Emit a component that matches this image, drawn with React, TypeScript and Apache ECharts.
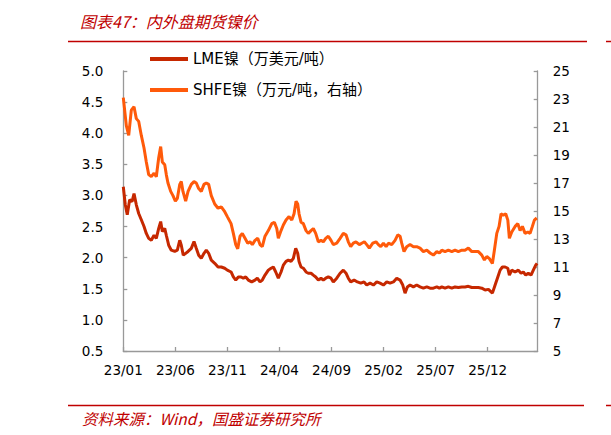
import React, { useEffect, useRef } from "react";
import * as echarts from "echarts";

const titleText = "图表47：内外盘期货镍价";
const sourceText = "资料来源：Wind，国盛证券研究所";
const seriesNames = ["LME镍（万美元/吨）", "SHFE镍（万元/吨，右轴）"];

// x = months since 2023-01
const lmeMonths = [0, 0.19, 0.38, 0.61, 0.84, 1.03, 1.25, 1.48, 1.73, 1.99, 2.21, 2.44, 2.69, 2.95, 3.17, 3.4, 3.59, 3.75, 3.98, 4.13, 4.36, 4.61, 4.94, 5.19, 5.42, 5.57, 5.76, 5.99, 6.22, 6.53, 6.79, 7.01, 7.24, 7.49, 7.75, 7.97, 8.2, 8.45, 8.78, 9.1, 9.41, 9.74, 9.99, 10.35, 10.57, 10.8, 11.05, 11.31, 11.53, 11.76, 12.01, 12.33, 12.65, 12.87, 13.13, 13.35, 13.61, 13.93, 14.19, 14.41, 14.64, 14.89, 15.15, 15.37, 15.63, 15.85, 16.11, 16.33, 16.56, 16.75, 16.88, 17.07, 17.29, 17.55, 17.77, 18.03, 18.25, 18.48, 18.73, 18.99, 19.21, 19.44, 19.69, 19.95, 20.17, 20.5, 20.82, 21.13, 21.39, 21.61, 21.84, 22.17, 22.48, 22.81, 23.12, 23.38, 23.7, 24.02, 24.34, 24.66, 24.98, 25.3, 25.62, 25.94, 26.26, 26.58, 26.84, 27.06, 27.28, 27.54, 27.86, 28.18, 28.5, 28.82, 29.15, 29.46, 29.78, 30.11, 30.36, 30.59, 30.9, 31.22, 31.55, 31.86, 32.18, 32.51, 32.82, 33.14, 33.47, 33.78, 34.1, 34.43, 34.75, 35.07, 35.45, 35.71, 35.97, 36.19, 36.41, 36.67, 36.93, 37.08, 37.31, 37.63, 37.94, 38.2, 38.42, 38.65, 38.9, 39.16, 39.38, 39.61, 39.74];
const lmeValues = [3.14, 2.85, 2.69, 2.93, 2.9, 3.03, 2.85, 2.71, 2.61, 2.5, 2.39, 2.31, 2.28, 2.36, 2.31, 2.47, 2.58, 2.42, 2.47, 2.36, 2.2, 2.12, 2.1, 2.12, 2.28, 2.2, 2.04, 2.07, 2.1, 2.15, 2.26, 2.15, 2.04, 1.99, 2.07, 2.12, 2.07, 1.96, 1.91, 1.85, 1.85, 1.83, 1.8, 1.77, 1.69, 1.64, 1.69, 1.69, 1.67, 1.69, 1.64, 1.61, 1.64, 1.67, 1.61, 1.64, 1.72, 1.8, 1.83, 1.85, 1.77, 1.67, 1.77, 1.88, 1.94, 1.96, 1.94, 1.99, 2.15, 2.07, 1.94, 1.85, 1.83, 1.77, 1.75, 1.75, 1.72, 1.69, 1.64, 1.67, 1.64, 1.67, 1.69, 1.67, 1.61, 1.67, 1.75, 1.8, 1.75, 1.67, 1.61, 1.64, 1.61, 1.59, 1.61, 1.56, 1.59, 1.56, 1.61, 1.59, 1.56, 1.61, 1.59, 1.61, 1.67, 1.64, 1.56, 1.43, 1.53, 1.56, 1.53, 1.56, 1.53, 1.51, 1.53, 1.51, 1.51, 1.53, 1.51, 1.53, 1.51, 1.53, 1.51, 1.53, 1.52, 1.53, 1.53, 1.54, 1.52, 1.52, 1.52, 1.51, 1.48, 1.49, 1.43, 1.56, 1.69, 1.8, 1.85, 1.85, 1.83, 1.72, 1.8, 1.77, 1.8, 1.75, 1.77, 1.72, 1.75, 1.72, 1.8, 1.88, 1.91];

const shfeMonths = [0, 0.29, 0.52, 0.77, 1.03, 1.25, 1.48, 1.73, 1.99, 2.21, 2.44, 2.69, 2.95, 3.17, 3.4, 3.59, 3.75, 3.98, 4.13, 4.29, 4.55, 4.77, 5.0, 5.19, 5.42, 5.57, 5.73, 5.99, 6.22, 6.53, 6.79, 7.01, 7.24, 7.49, 7.75, 7.97, 8.2, 8.45, 8.78, 9.1, 9.41, 9.74, 9.99, 10.35, 10.57, 10.8, 10.99, 11.21, 11.43, 11.69, 11.95, 12.17, 12.39, 12.65, 12.91, 13.13, 13.35, 13.61, 13.93, 14.26, 14.51, 14.74, 14.89, 15.15, 15.37, 15.63, 15.92, 16.18, 16.4, 16.59, 16.75, 16.88, 17.07, 17.29, 17.55, 17.77, 18.03, 18.25, 18.48, 18.73, 18.99, 19.21, 19.44, 19.69, 19.95, 20.17, 20.5, 20.82, 21.13, 21.39, 21.61, 21.84, 22.09, 22.35, 22.67, 22.9, 23.15, 23.38, 23.63, 23.96, 24.27, 24.5, 24.73, 24.98, 25.24, 25.46, 25.78, 26.1, 26.36, 26.58, 26.74, 26.96, 27.22, 27.54, 27.86, 28.18, 28.5, 28.82, 29.15, 29.46, 29.78, 30.11, 30.36, 30.59, 30.9, 31.22, 31.55, 31.86, 32.18, 32.51, 32.82, 33.14, 33.47, 33.78, 34.1, 34.43, 34.68, 34.91, 35.16, 35.45, 35.64, 35.87, 36.09, 36.28, 36.5, 36.73, 36.93, 37.08, 37.31, 37.63, 37.89, 38.11, 38.33, 38.59, 38.85, 39.07, 39.29, 39.48, 39.71];
const shfeValues = [23.1, 21.1, 20.4, 22.2, 22.45, 21.6, 21.4, 20.4, 19.5, 18.5, 17.6, 17.45, 17.7, 17.45, 18.8, 19.6, 18.5, 18.3, 17.6, 17.0, 16.4, 16.1, 15.7, 15.9, 16.9, 17.1, 16.4, 15.7, 16.4, 16.9, 17.1, 17.0, 16.6, 16.4, 16.9, 17.0, 16.9, 16.1, 15.5, 15.2, 15.3, 14.95, 14.6, 14.1, 13.4, 12.6, 12.3, 13.2, 13.4, 13.05, 12.7, 12.8, 12.6, 12.9, 13.05, 12.6, 12.45, 13.2, 13.6, 14.1, 14.2, 13.75, 13.05, 13.6, 14.0, 14.35, 14.6, 14.35, 14.8, 15.7, 15.5, 14.8, 14.2, 14.1, 13.6, 13.4, 13.6, 13.75, 13.4, 12.8, 12.9, 12.8, 13.05, 13.2, 12.9, 12.6, 12.7, 13.05, 13.4, 13.3, 12.8, 12.45, 12.7, 12.8, 12.6, 12.7, 12.8, 12.6, 12.35, 12.7, 12.8, 12.6, 12.45, 12.7, 12.45, 12.7, 12.6, 12.9, 13.3, 13.2, 12.7, 12.1, 12.45, 12.6, 12.45, 12.45, 12.35, 12.1, 12.2, 12.0, 11.85, 12.1, 12.0, 12.2, 12.1, 12.2, 12.1, 12.2, 12.1, 12.2, 12.2, 12.35, 12.1, 12.1, 12.1, 11.85, 11.5, 11.75, 11.6, 11.25, 12.2, 13.4, 13.9, 14.8, 14.7, 14.8, 14.35, 13.05, 13.5, 13.9, 14.1, 13.6, 13.9, 13.4, 13.5, 13.4, 13.9, 14.35, 14.5];

const RED = "#C00000";
const LME_COLOR = "#C62800";
const SHFE_COLOR = "#FF5A0A";
const FONT = "DejaVu Sans, Noto Sans CJK SC, sans-serif";

export default function App() {
  const ref = useRef<HTMLDivElement>(null);
  useEffect(() => {
    if (!ref.current) return;
    const chart = echarts.init(ref.current, null, { renderer: "svg" });
    const axisLineStyle = { color: "#999999", width: 1.3 };
    chart.setOption({
      animation: false,
      backgroundColor: "#ffffff",
      grid: { left: 123.3, right: 73.3, top: 71, bottom: 84, containLabel: false, outerBoundsMode: "none" },
      legend: {
        orient: "vertical",
        left: 145,
        top: 45,
        itemWidth: 38,
        itemHeight: 4,
        itemGap: 13,
        icon: "rect",
        textStyle: { fontSize: 15, lineHeight: 18, color: "#000", fontFamily: FONT },
        data: seriesNames,
      },
      xAxis: {
        type: "value",
        min: 0,
        max: 39.8,
        interval: 5,
        axisLine: { show: true, lineStyle: axisLineStyle },
        axisTick: { show: true, inside: true, length: 4, lineStyle: axisLineStyle },
        splitLine: { show: false },
        axisLabel: {
          showMaxLabel: false,
          margin: 12,
          fontSize: 13.5,
          color: "#000",
          fontFamily: FONT,
          formatter: (v: number) => {
            const m = Math.round(v);
            const yy = 23 + Math.floor(m / 12);
            const mm = (m % 12) + 1;
            return `${yy}/${mm < 10 ? "0" + mm : mm}`;
          },
        },
      },
      yAxis: [
        {
          type: "value",
          min: 0.5,
          max: 5,
          interval: 0.5,
          position: "left",
          axisLine: { show: true, lineStyle: axisLineStyle },
          axisTick: { show: true, inside: true, length: 4, lineStyle: axisLineStyle },
          splitLine: { show: false },
          axisLabel: { margin: 20, fontSize: 13.5, color: "#000", fontFamily: FONT, formatter: (v: number) => v.toFixed(1) },
        },
        {
          type: "value",
          min: 5,
          max: 25,
          interval: 2,
          position: "right",
          axisLine: { show: true, lineStyle: axisLineStyle },
          axisTick: { show: true, inside: true, length: 4, lineStyle: axisLineStyle },
          splitLine: { show: false },
          axisLabel: { margin: 15, fontSize: 13.5, color: "#000", fontFamily: FONT },
        },
      ],
      series: [
        {
          name: seriesNames[0],
          type: "line",
          yAxisIndex: 0,
          showSymbol: false,
          symbol: "none",
          lineStyle: { color: LME_COLOR, width: 3 },
          itemStyle: { color: LME_COLOR },
          data: lmeMonths.map((m, i) => [m, lmeValues[i]]),
        },
        {
          name: seriesNames[1],
          type: "line",
          yAxisIndex: 1,
          showSymbol: false,
          symbol: "none",
          lineStyle: { color: SHFE_COLOR, width: 3 },
          itemStyle: { color: SHFE_COLOR },
          data: shfeMonths.map((m, i) => [m, shfeValues[i]]),
        },
      ],
      graphic: [
        {
          type: "text",
          left: 80,
          top: 13,
          style: { text: titleText, fill: RED, fontSize: 16, fontStyle: "italic", fontFamily: "Noto Sans CJK SC, sans-serif" },
        },
        { type: "line", shape: { x1: 68, y1: 41.5, x2: 587, y2: 41.5 }, style: { stroke: RED, lineWidth: 1.5 } },
        { type: "line", shape: { x1: 606, y1: 41.5, x2: 611, y2: 41.5 }, style: { stroke: RED, lineWidth: 1.5 } },
        { type: "line", shape: { x1: 68, y1: 405.5, x2: 584, y2: 405.5 }, style: { stroke: RED, lineWidth: 1.5 } },
        { type: "line", shape: { x1: 606, y1: 405.5, x2: 611, y2: 405.5 }, style: { stroke: RED, lineWidth: 1.5 } },
        {
          type: "text",
          left: 82,
          top: 410,
          style: { text: sourceText, fill: RED, fontSize: 15.5, fontStyle: "italic", fontFamily: "Noto Sans CJK SC, sans-serif" },
        },
      ],
    });
    return () => chart.dispose();
  }, []);
  return <div ref={ref} style={{ position: "fixed", left: 0, top: 0, width: 611, height: 435 }} />;
}
